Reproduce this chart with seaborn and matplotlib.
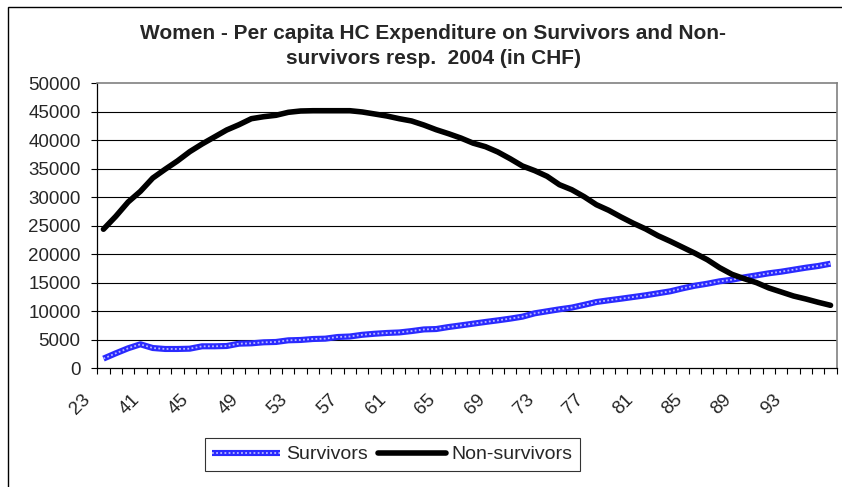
import pandas as pd
import matplotlib
matplotlib.use("Agg")
import matplotlib.pyplot as plt
from matplotlib.patches import Rectangle
from matplotlib.transforms import ScaledTranslation
import seaborn as sns

# ages (categories); only every 4th one is labelled in the chart
ages = ["23", "38", "39", "40", "41", "42", "43", "44", "45", "46", "47", "48",
        "49", "50", "51", "52", "53", "54", "55", "56", "57", "58", "59", "60",
        "61", "62", "63", "64", "65", "66", "67", "68", "69", "70", "71", "72",
        "73", "74", "75", "76", "77", "78", "79", "80", "81", "82", "83", "84",
        "85", "86", "87", "88", "89", "90", "91", "92", "93", "94", "95", "96"]

survivors = [1700, 2630, 3510, 4210, 3560, 3390, 3390, 3440, 3860, 3860,
             3910, 4320, 4380, 4560, 4620, 4910, 4970, 5140, 5200, 5490,
             5580, 5880, 6060, 6200, 6290, 6530, 6820, 6890, 7240, 7530,
             7830, 8130, 8410, 8710, 9060, 9650, 10000, 10350, 10650, 11130,
             11630, 11930, 12210, 12510, 12810, 13160, 13510, 14030, 14490, 14840,
             15260, 15540, 15960, 16310, 16670, 16950, 17300, 17650, 17950, 18350]

non_survivors = [24400, 26660, 29170, 31050, 33380, 34910, 36370, 38000, 39350, 40580,
                 41810, 42740, 43790, 44140, 44390, 44910, 45140, 45190, 45190, 45190,
                 45190, 44970, 44620, 44260, 43790, 43390, 42680, 41860, 41160, 40400,
                 39500, 38880, 37950, 36770, 35490, 34670, 33680, 32210, 31330, 30110,
                 28700, 27720, 26540, 25440, 24440, 23260, 22280, 21230, 20180, 19050,
                 17650, 16490, 15720, 15020, 14090, 13390, 12680, 12160, 11580, 11050]

y_ticks = [0, 5000, 10000, 15000, 20000, 25000, 30000, 35000, 40000, 45000, 50000]

title = "Women - Per capita HC Expenditure on Survivors and Non-\nsurvivors resp.  2004 (in CHF)"

sns.set_theme(style="white")
plt.rcParams["font.family"] = ["Liberation Sans", "DejaVu Sans"]

W, H = 842, 487
fig = plt.figure(figsize=(W / 100, H / 100), dpi=100)
ax = fig.add_axes([97.3 / W, 1 - 368.3 / H, (836.7 - 97.3) / W, (368.3 - 83.3) / H])

df = pd.DataFrame({"pos": range(len(ages)),
                   "Survivors": survivors,
                   "Non-survivors": non_survivors})

# gridlines first so lines sit on top
for v in y_ticks[1:-1]:
    ax.axhline(v, color="black", lw=0.8, zorder=1)

sns.lineplot(data=df, x="pos", y="Survivors", ax=ax, color="#2a2aff", lw=4.4,
             solid_capstyle="butt", zorder=3, legend=False)
blue = ax.lines[-1]
# light speckles on top of the blue line
sns.lineplot(data=df, x="pos", y="Survivors", ax=ax, color="#b8b8ff", lw=1.3,
             zorder=4, legend=False)
speck = ax.lines[-1]
speck.set_linestyle((0, (1, 1.3)))

sns.lineplot(data=df, x="pos", y="Non-survivors", ax=ax, color="black", lw=4.0,
             solid_capstyle="round", solid_joinstyle="round", zorder=5, legend=False)
black = ax.lines[-1]

ax.set_xlim(-0.5, len(ages) - 0.5)
ax.set_ylim(0, 50000)
ax.set_xlabel("")
ax.set_ylabel("")

ax.set_yticks(y_ticks)
ax.set_yticklabels([str(v) for v in y_ticks], fontsize=13.5)
ax.tick_params(axis="y", direction="out", length=4, width=0.8, color="black", pad=8.0,
               left=True)

lab_pos = list(range(0, len(ages), 4))
ax.set_xticks(lab_pos)
ax.set_xticklabels([ages[i] for i in lab_pos], rotation=45, ha="right", va="top",
                   fontsize=13.5)
ax.set_xticks([i - 0.5 for i in range(len(ages) + 1)], minor=True)
ax.tick_params(axis="x", which="major", length=0, pad=16.3, bottom=True)
ax.tick_params(axis="x", which="minor", direction="out", length=4, width=0.8,
               color="black", bottom=True)
shift = ScaledTranslation(-9.4 / 100, 0, fig.dpi_scale_trans)
for t in ax.get_xticklabels():
    t.set_transform(t.get_transform() + shift)

for side in ["left", "bottom"]:
    ax.spines[side].set_color("black")
    ax.spines[side].set_linewidth(0.9)
for side in ["top", "right"]:
    ax.spines[side].set_color("#808080")
    ax.spines[side].set_linewidth(1.2)

fig.text(433 / W, 1 - 46 / H, title, ha="center", va="center", fontsize=15,
         fontweight="bold", linespacing=1.35)

leg = fig.legend([(blue, speck), black], ["Survivors", "Non-survivors"],
                 loc="center", bbox_to_anchor=(392.5 / W, 1 - 454.5 / H), ncol=2,
                 frameon=True, fancybox=False, edgecolor="black", fontsize=14,
                 handlelength=3.5, handletextpad=0.3, columnspacing=0.5,
                 borderpad=0.4, borderaxespad=0)
leg.get_frame().set_linewidth(0.8)

# outer chart-area border (runs off the right and bottom of the image)
fig.patches.append(Rectangle((8.3 / W, -0.1), 1.0, 1 - 7.3 / H + 0.1,
                             transform=fig.transFigure, fill=False,
                             edgecolor="black", lw=1.0))

fig.savefig("out.png", dpi=100)
